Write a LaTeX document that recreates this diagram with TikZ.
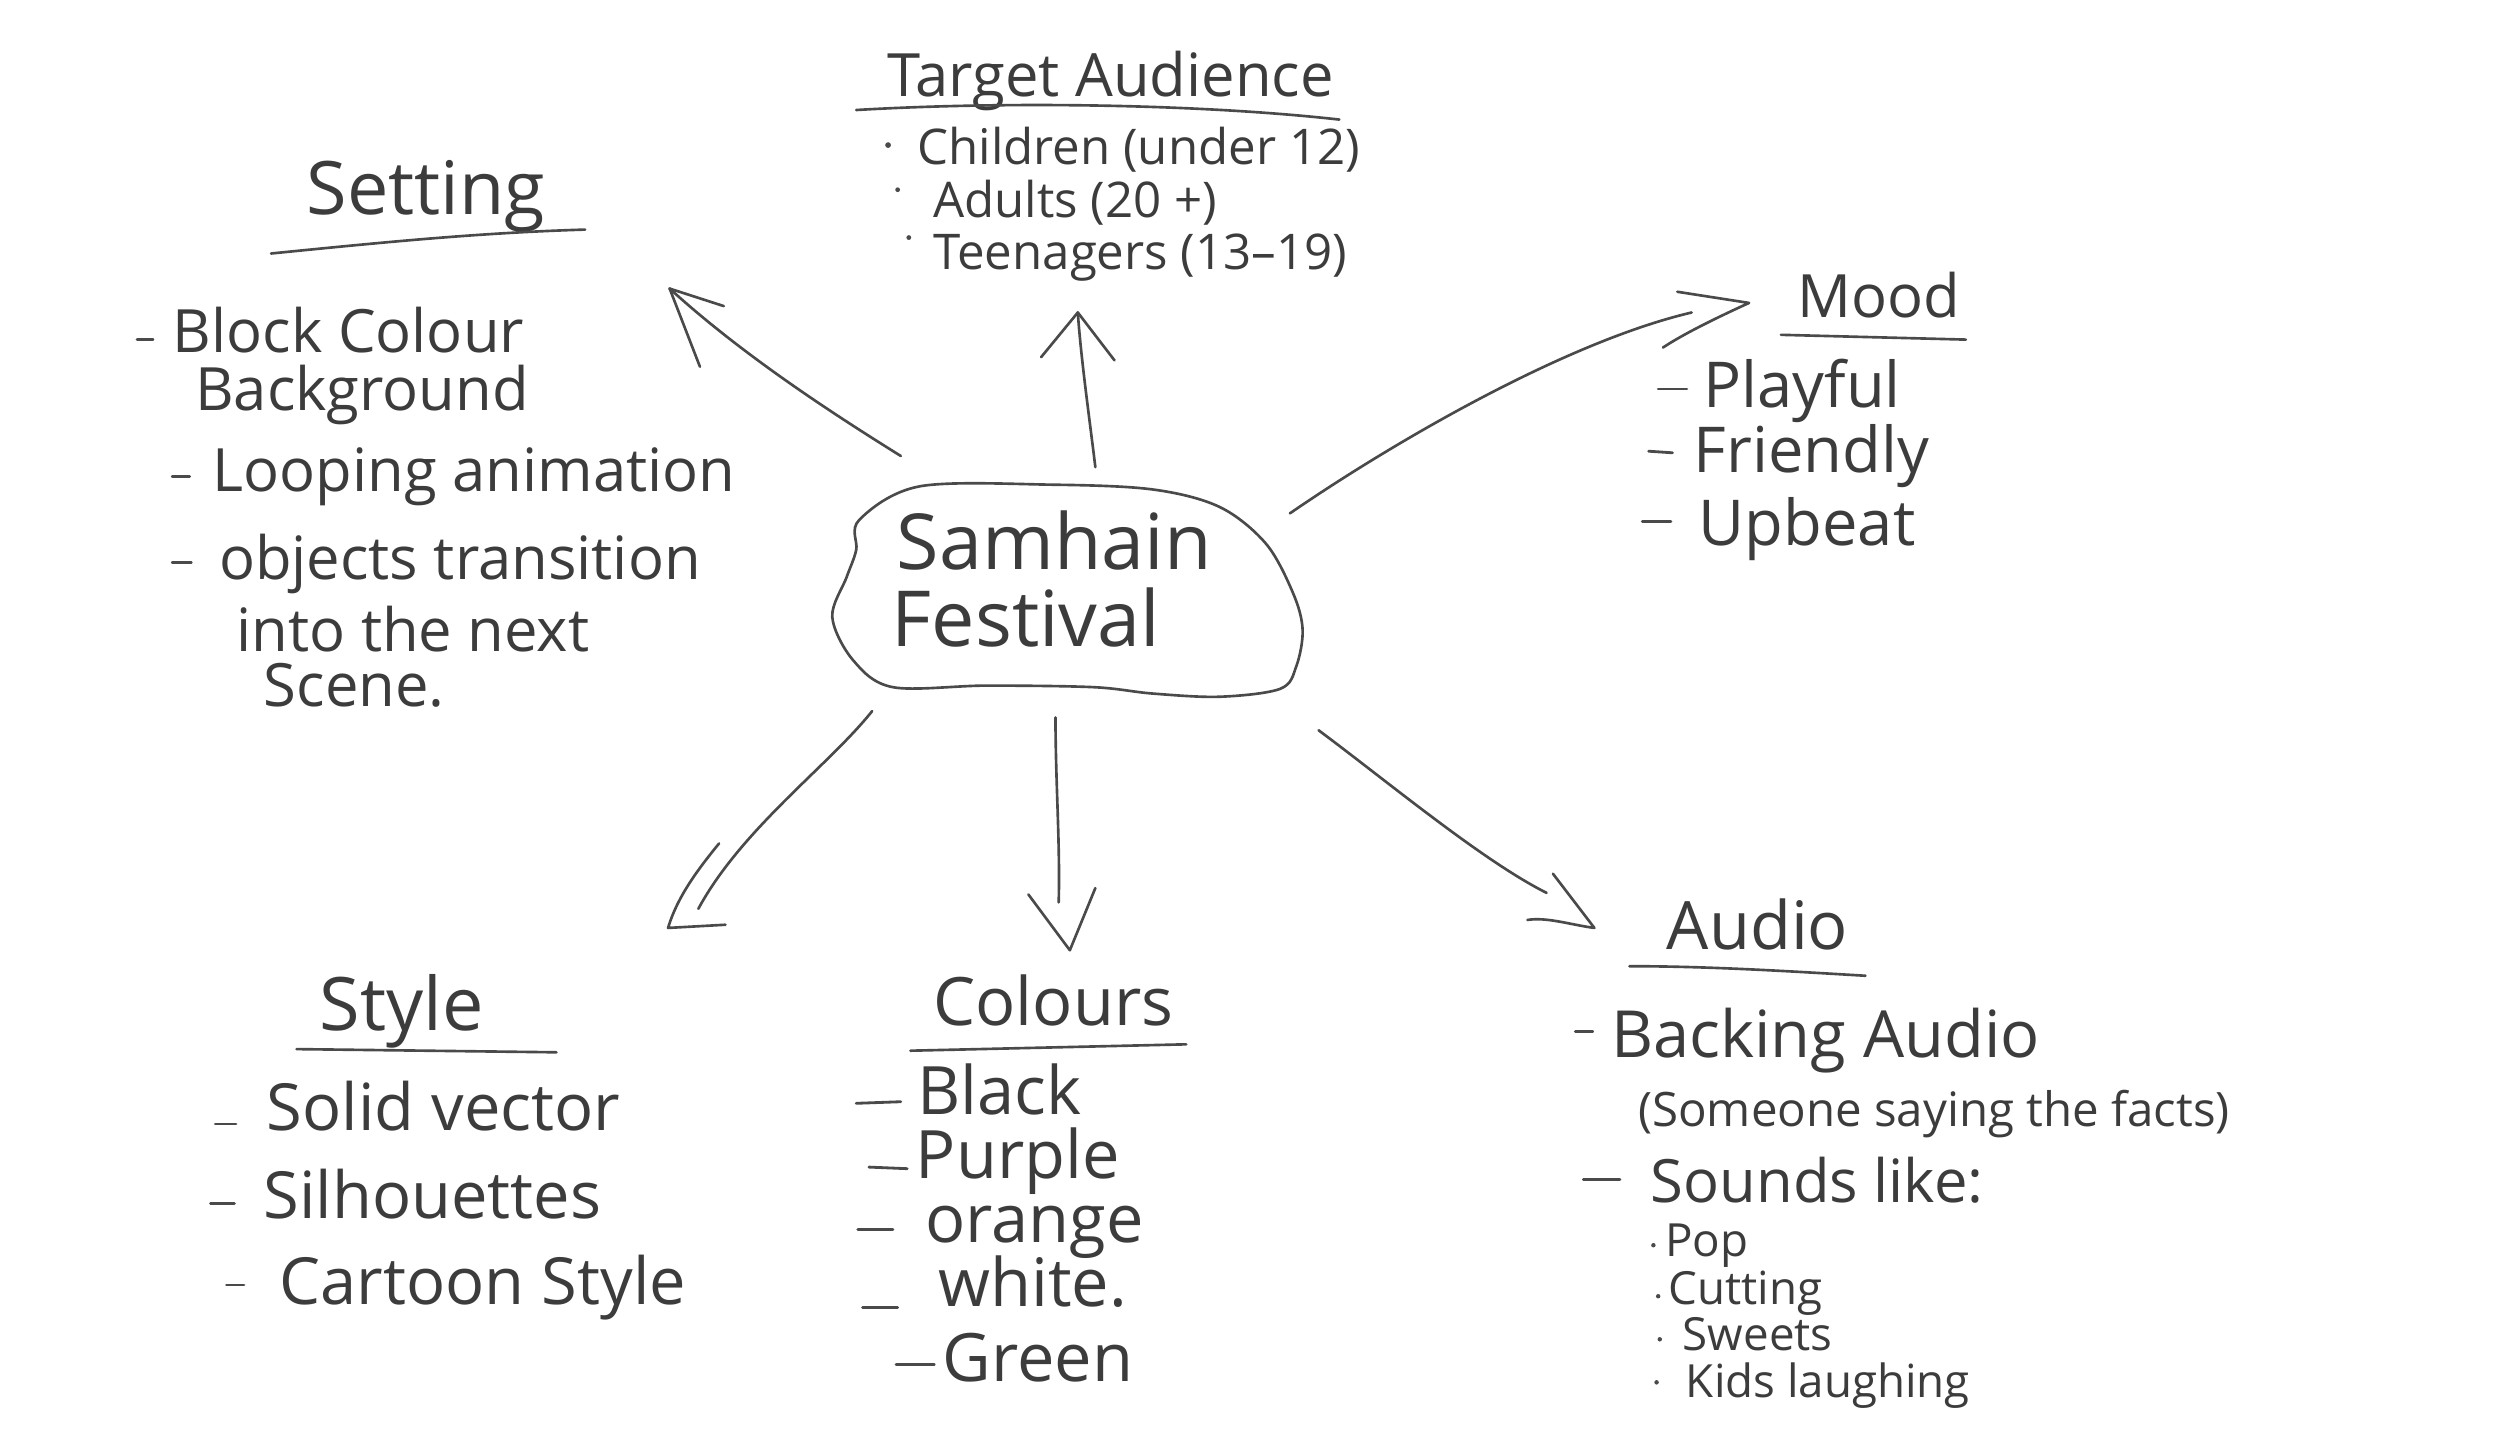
\documentclass[tikz,border=0pt]{standalone}
\usepackage{fontspec}
\setmainfont{Open Sans}
\definecolor{inkc}{HTML}{4A4A4A}
\definecolor{txtc}{HTML}{3C3C3C}
\newcommand\fsz[1]{\fontsize{#1pt}{#1pt}\selectfont}
\tikzset{
  ink/.style={draw=inkc, line width=0.75pt, line cap=round, line join=round},
  lbl/.style={text=txtc, inner sep=0pt, anchor=mid west, yshift=-2pt},
  dashmark/.style={draw=inkc, line width=0.8pt, line cap=round},
  dotmark/.style={fill=inkc},
}
\begin{document}
\begin{tikzpicture}[x=0.015944cm, y=-0.015944cm]
\useasboundingbox (0,0) rectangle (1568,903);
\fill[white] (0,0) rectangle (1568,903);

% ---------- central blob ----------
\draw[ink] plot[smooth cycle, tension=0.55] coordinates {
  (539,326) (577,305) (660,304) (723,307) (765,318) (794,341) (811,372)
  (817,395) (813,418) (803,432) (765,437) (723,435) (686,431) (619,430)
  (560,431) (535,414) (522,387) (531,362) (537,345)};
\node[lbl, font=\fsz{22}] (samhain) at (562,347) {Samhain};
\node[lbl, font=\fsz{22}] (festival) at (559,395) {Festival};

% ---------- connectors ----------
% Setting
\coordinate (setS) at (565,286); \coordinate (setT) at (420,181);
\draw[ink] (setS) .. controls (520,258) and (465,222) .. (setT);
\draw[ink] (setT) -- ++(19,49);
\draw[ink] (setT) -- ++(34,11);
% Target audience
\coordinate (tgtS) at (687,293); \coordinate (tgtT) at (676,196);
\draw[ink] (tgtS) .. controls (683,260) and (678,225) .. (tgtT);
\draw[ink] (tgtT) -- ++(-23,28);
\draw[ink] (tgtT) -- ++(23,30);
% Mood
\coordinate (mooS) at (809,322); \coordinate (mooE) at (1061,196); \coordinate (mooT) at (1097,190);
\draw[ink] (mooS) .. controls (870,280) and (980,215) .. (mooE);
\draw[ink] (1052,183) -- (mooT) .. controls (1075,200) and (1055,210) .. (1043,218);
% Style
\coordinate (styS) at (547,446); \coordinate (styE) at (438,570); \coordinate (styT) at (419,582);
\draw[ink] (styS) .. controls (520,480) and (465,520) .. (styE);
\draw[ink] (451,529) .. controls (438,545) and (425,562) .. (styT) -- (455,580);
% Colours
\coordinate (colS) at (662,450); \coordinate (colE) at (664,566); \coordinate (colT) at (671,596);
\draw[ink] (colS) .. controls (662,490) and (665,530) .. (colE);
\draw[ink] (645,561) -- (colT) -- (687,557);
% Audio
\coordinate (audS) at (827,458); \coordinate (audE) at (970,560); \coordinate (audT) at (1000,582);
\draw[ink] (audS) .. controls (870,490) and (930,540) .. (audE);
\draw[ink] (974,548) -- (audT) .. controls (985,580) and (970,575) .. (958,577);

% ---------- Target Audience ----------
\node[lbl, font=\fsz{17}] (tatitle) at (556,50) {Target Audience};
\draw[ink] (537,69) .. controls (640,63) and (760,66) .. (840,75);
\fill[dotmark] (557,91) circle (1.8);
\fill[dotmark] (563,119) circle (1.5);
\fill[dotmark] (570,149) circle (1.5);
\node[lbl, font=\fsz{14}] (ta1) at (575,93) {Children (under 12)};
\node[lbl, font=\fsz{14}] (ta2) at (585,126) {Adults (20 +)};
\node[lbl, font=\fsz{14}] (ta3) at (585,159) {Teenagers (13–19)};

% ---------- Setting ----------
\node[lbl, font=\fsz{21}] (settitle) at (192,124) {Setting};
\draw[ink] (170,159) .. controls (240,152) and (300,146) .. (367,144);
\draw[dashmark] (86,213) -- (96,213);
\node[lbl, font=\fsz{17}] (set1) at (108,211) {Block Colour};
\node[lbl, font=\fsz{17}] (set1b) at (122,247) {Background};
\draw[dashmark] (108,299) -- (119,299);
\node[lbl, font=\fsz{17}] (set2) at (133,298) {Looping animation};
\draw[dashmark] (108,353) -- (120,353);
\node[lbl, font=\fsz{17}] (set3) at (137,353) {objects transition};
\node[lbl, font=\fsz{17}] (set3b) at (148,398) {into the next};
\node[lbl, font=\fsz{17}] (set3c) at (165,433) {Scene.};

% ---------- Mood ----------
\node[lbl, font=\fsz{17}] (moodtitle) at (1127,189) {Mood};
\draw[ink] (1117,210) -- (1233,213);
\draw[dashmark] (1040,244) -- (1058,244);
\node[lbl, font=\fsz{18}] (mood1) at (1068,245) {Playful};
\draw[dashmark] (1034,283) -- (1049,284);
\node[lbl, font=\fsz{18}] (mood2) at (1062,286) {Friendly};
\draw[dashmark] (1030,327) -- (1048,327);
\node[lbl, font=\fsz{18}] (mood3) at (1065,332) {Upbeat};

% ---------- Style ----------
\node[lbl, font=\fsz{21}] (stytitle) at (200,636) {Style};
\draw[ink] (186,658) -- (349,660);
\draw[dashmark] (135,705) -- (148,705);
\node[lbl, font=\fsz{18.5}] (sty1) at (167,699) {Solid vector};
\draw[dashmark] (132,755) -- (147,755);
\node[lbl, font=\fsz{18.5}] (sty2) at (165,754) {Silhouettes};
\draw[dashmark] (142,806) -- (153,806);
\node[lbl, font=\fsz{18.5}] (sty3) at (175,808) {Cartoon Style};

% ---------- Colours ----------
\node[lbl, font=\fsz{19}] (coltitle) at (585,633) {Colours};
\draw[ink] (571,659) -- (744,655);
\draw[dashmark] (537,692) -- (565,691);
\node[lbl, font=\fsz{19}] (col1) at (575,689) {Black};
\draw[dashmark] (545,732) -- (569,733);
\node[lbl, font=\fsz{19}] (col2) at (574,729) {Purple};
\draw[dashmark] (538,771) -- (560,771);
\node[lbl, font=\fsz{19}] (col3) at (580,769) {orange};
\draw[dashmark] (541,820) -- (563,820);
\node[lbl, font=\fsz{19}] (col4) at (588,809) {white.};
\draw[dashmark] (562,856) -- (586,856);
\node[lbl, font=\fsz{19}] (col5) at (591,856) {Green};

% ---------- Audio ----------
\node[lbl, font=\fsz{19}] (audtitle) at (1045,585) {Audio};
\draw[ink] (1022,606) .. controls (1070,606) and (1120,609) .. (1170,612);
\draw[dashmark] (988,647) -- (999,647);
\node[lbl, font=\fsz{18.5}] (aud1) at (1010,653) {Backing Audio};
\node[lbl, font=\fsz{13.5}] (aud1b) at (1027,696) {(Someone saying the facts)};
\draw[dashmark] (993,740) -- (1016,740);
\node[lbl, font=\fsz{17}] (aud2) at (1035,744) {Sounds like:};
\fill[dotmark] (1037,781) circle (1.4);
\node[lbl, font=\fsz{13}] (aud3) at (1044,778) {Pop};
\fill[dotmark] (1040,813) circle (1.4);
\node[lbl, font=\fsz{13}] (aud4) at (1046,808) {Cutting};
\fill[dotmark] (1041,840) circle (1.4);
\node[lbl, font=\fsz{13}] (aud5) at (1055,837) {Sweets};
\fill[dotmark] (1039,867) circle (1.4);
\node[lbl, font=\fsz{13}] (aud6) at (1057,866) {Kids laughing};
\end{tikzpicture}
\end{document}
